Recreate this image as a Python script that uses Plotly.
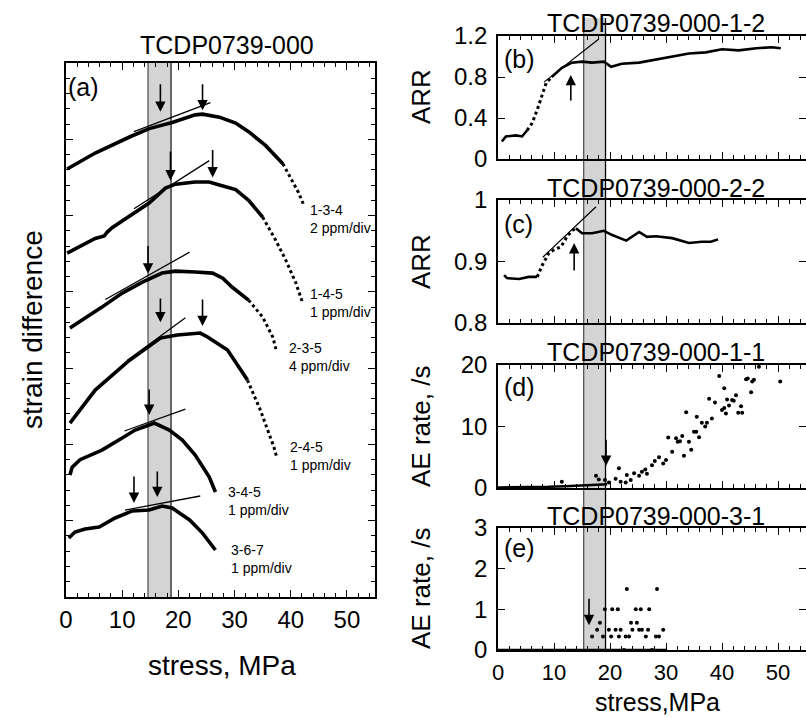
import plotly.graph_objects as go

# ---------------- DATA ----------------
# Panel (a): strain-difference curves (stress MPa, offset strain units)
stress_134 = [0.2, 5.2, 11.3, 14.8, 18.9, 23.0, 24.3, 27.3, 30.2, 32.5, 35.5, 38.6, 40.4, 41.4, 42.3]
strain_134 = [28.05, 29.1, 30.15, 30.7, 31.1, 31.6, 31.65, 31.45, 31.06, 30.5, 29.6, 28.4, 27.2, 26.5, 25.7]

stress_145 = [0.2, 2.9, 5.2, 6.8, 7.3, 8.2, 9.5, 12.3, 14.8, 17.7, 19.5, 23.0, 25.5, 27.3, 30.2, 32.5, 35.0, 37.3, 39.1, 40.9, 42.1]
strain_145 = [22.54, 23.07, 23.5, 23.66, 23.9, 24.2, 24.51, 25.16, 25.82, 26.8, 27.06, 27.2, 27.2, 27.0, 26.7, 26.0, 24.9, 23.4, 22.1, 20.6, 19.3]

stress_235 = [0.7, 2.9, 6.4, 10.0, 13.6, 17.1, 19.5, 23.0, 26.1, 27.9, 29.6, 32.5, 35.0, 36.8, 37.5]
strain_235 = [17.63, 18.15, 19.0, 19.92, 20.64, 21.23, 21.36, 21.3, 21.23, 20.9, 20.3, 19.46, 18.35, 17.04, 16.05]

stress_245 = [0.7, 1.4, 5.2, 11.25, 13.75, 16.8, 19.8, 23.9, 25.2, 28.75, 32.3, 34.6, 37.0, 37.5]
strain_245 = [11.4, 11.73, 13.56, 15.5, 16.19, 16.97, 17.17, 17.3, 17.04, 16.19, 14.22, 12.25, 9.83, 9.17]

stress_345 = [0.7, 1.1, 2.5, 6.4, 10.0, 12.3, 14.8, 15.7, 18.4, 20.7, 23.0, 25.5, 26.6]
strain_345 = [8.0, 8.5, 9.0, 9.63, 10.42, 10.94, 11.27, 11.4, 10.94, 10.29, 9.3, 7.86, 6.88]

stress_367 = [0.5, 1.6, 3.4, 5.9, 8.75, 11.8, 14.8, 17.1, 18.9, 22.0, 24.3, 26.6]
strain_367 = [3.87, 4.26, 4.46, 4.59, 5.18, 5.64, 5.7, 5.96, 5.83, 5.05, 4.19, 3.08]

curve_labels = ["1-3-4<br>2 ppm/div", "1-4-5<br>1 ppm/div", "2-3-5<br>4 ppm/div",
                "2-4-5<br>1 ppm/div", "3-4-5<br>1 ppm/div", "3-6-7<br>1 ppm/div"]
label_stress = [43.0, 43.0, 39.3, 39.5, 28.4, 29.1]
label_strain = [24.8, 19.27, 15.76, 9.24, 6.29, 2.49]

# tangent lines in (a)
tan_a_x = [[12.1, 25.7], [12.1, 25.5], [7.0, 22.0], [10.9, 21.25], [10.4, 21.25], [10.5, 23.9]]
tan_a_y = [[30.5, 32.4], [25.45, 28.6], [19.5, 22.6], [15.5, 18.3], [10.88, 12.32], [5.7, 6.62]]

# arrows in (a): stress, tip, tail
arrow_a_x = [16.8, 24.3, 18.6, 26.1, 14.6, 16.8, 24.3, 14.8, 12.1, 16.25]
arrow_a_tip = [31.8, 31.9, 27.3, 27.5, 21.2, 18.0, 17.76, 11.93, 6.16, 6.55]
arrow_a_tail = [33.7, 33.7, 29.3, 29.4, 23.1, 19.66, 19.6, 13.7, 8.0, 8.32]

# Panel (b): ARR TCDP0739-000-1-2
stress_b = [0.7, 1.4, 3.2, 4.3, 5.2, 6.1, 7.0, 7.9, 8.6, 9.6, 11.4, 13.2, 15.0, 16.8, 18.9, 20.2, 22.1,
            25.2, 28.2, 31.1, 34.1, 37.1, 40.0, 43.0, 46.1, 48.9, 50.5]
arr_b = [0.17, 0.22, 0.23, 0.22, 0.28, 0.35, 0.48, 0.62, 0.74, 0.80, 0.89, 0.94, 0.95, 0.94, 0.95, 0.90, 0.93,
         0.94, 0.97, 1.00, 1.03, 1.04, 1.07, 1.06, 1.08, 1.09, 1.08]
tan_b_x = [8.2, 18.0]
tan_b_y = [0.75, 1.17]

# Panel (c): ARR TCDP0739-000-2-2
stress_c = [1.1, 1.6, 3.75, 5.5, 7.0, 7.9, 9.1, 10.0, 11.25, 12.3, 13.2, 13.9, 15.0, 16.8, 18.9, 20.4, 22.9,
            25.2, 26.6, 28.2, 31.1, 34.1, 36.4, 38.0, 39.3]
arr_c = [0.878, 0.873, 0.8715, 0.875, 0.875, 0.894, 0.914, 0.919, 0.924, 0.940, 0.950, 0.954, 0.946, 0.946,
         0.950, 0.943, 0.934, 0.948, 0.940, 0.941, 0.938, 0.930, 0.932, 0.932, 0.936]
tan_c_x = [8.0, 17.5]
tan_c_y = [0.907, 0.989]

# Panel (d): AE rate TCDP0739-000-1-1
stress_d_base = [0, 3, 6, 9, 12, 15, 18, 19.5]
ae_d_base = [0.1, 0.1, 0.15, 0.2, 0.3, 0.4, 0.5, 0.6]
stress_d = [11.4, 17.5, 18.0, 19.1, 19.8, 21.0, 21.6, 21.9, 22.8, 23.0, 23.7, 24.3, 25.2, 25.7, 26.3, 26.6,
            27.5, 28.0, 28.75, 29.5, 30.0, 30.4, 31.1, 31.8, 32.1, 32.5, 32.9, 33.2, 33.6, 34.1, 34.5, 35.0,
            35.4, 35.5, 35.9, 36.4, 37.0, 37.3, 37.7, 38.2, 38.75, 39.5, 40.0, 40.4, 40.4, 40.7, 40.9, 41.25,
            41.8, 42.1, 42.5, 42.9, 43.4, 43.6, 44.3, 44.6, 45.2, 45.4, 45.7, 46.6, 50.4]
ae_d = [1.0, 2.0, 1.4, 1.3, 0.9, 1.5, 3.2, 1.0, 0.9, 2.1, 1.3, 2.4, 2.0, 2.65, 3.0, 2.3,
        3.7, 4.4, 5.0, 4.0, 4.55, 8.2, 5.9, 8.1, 7.5, 7.6, 8.45, 5.25, 12.3, 7.5, 6.2, 9.15,
        9.15, 11.6, 8.25, 10.6, 10.0, 10.6, 14.5, 11.3, 13.9, 18.2, 12.7, 13.0, 16.2, 12.1, 14.4, 13.4,
        14.3, 14.2, 15.1, 12.25, 13.3, 12.25, 17.7, 17.8, 15.55, 17.3, 17.6, 19.7, 17.3]

# Panel (e): AE rate TCDP0739-000-3-1
stress_e_base = [0, 30]
ae_e_base = [0, 0]
stress_e = [16.8, 17.7, 18.2, 18.75, 19.1, 19.8, 20.2, 20.4, 21.0, 21.4, 21.6, 21.9, 22.5, 22.8, 23.0, 23.4,
            23.75, 24.0, 24.6, 24.8, 25.2, 25.5, 25.7, 26.4, 26.8, 27.0, 27.5, 28.2, 28.4, 28.75, 29.5]
ae_e = [0.33, 0.5, 0.67, 0.33, 1.0, 0.5, 0.33, 1.0, 0.5, 1.0, 0.33, 0.5, 0.0, 0.33, 1.5, 0.33,
        0.67, 0.5, 1.0, 0.67, 0.5, 1.0, 0.5, 0.33, 0.5, 1.0, 0.0, 0.33, 1.5, 0.33, 0.5]

# arrows in right panels: stress, tip, tail
arrow_r_x = [13.0, 13.6, 19.3, 16.25]
arrow_r_tip = [0.82, 0.930, 3.6, 0.61]
arrow_r_tail = [0.556, 0.883, 8.1, 1.3]

band_a = [14.6, 18.7]
band_r = [15.3, 19.2]

panel_titles = ["TCDP0739-000", "TCDP0739-000-1-2", "TCDP0739-000-2-2", "TCDP0739-000-1-1", "TCDP0739-000-3-1"]
panel_tags = ["(a)", "(b)", "(c)", "(d)", "(e)"]

# ---------------- FIGURE ----------------
W, H = 806, 717
FONT = "Liberation Sans, Arial, Helvetica, sans-serif"


def px(x):
    return x / W


def py(y):
    return 1 - y / H


fig = go.Figure()


def seg_trace(xs, ys, i0, i1, dashed, xa, ya, width):
    fig.add_trace(go.Scatter(
        x=xs[i0:i1 + 1], y=ys[i0:i1 + 1], mode="lines", xaxis=xa, yaxis=ya,
        line=dict(color="black", width=(3 if dashed else width), dash=("3px,3px" if dashed else "solid")),
        hoverinfo="skip"))


# (a) curves: solid dense part + dotted sparse tail
curves_a = [(stress_134, strain_134, 11), (stress_145, strain_145, 16), (stress_235, strain_235, 11),
            (stress_245, strain_245, 10), (stress_345, strain_345, None), (stress_367, strain_367, None)]
for xs, ys, tail in curves_a:
    n = len(xs) - 1
    if tail is None:
        seg_trace(xs, ys, 0, n, False, "x", "y", 3.6)
    else:
        seg_trace(xs, ys, 0, tail, False, "x", "y", 3.6)
        seg_trace(xs, ys, tail, n, True, "x", "y", 3.6)

for tx, ty in zip(tan_a_x, tan_a_y):
    fig.add_trace(go.Scatter(x=tx, y=ty, mode="lines", line=dict(color="black", width=1.3),
                             xaxis="x", yaxis="y", hoverinfo="skip"))

# (b)
seg_trace(stress_b, arr_b, 0, 4, False, "x2", "y2", 2.6)
seg_trace(stress_b, arr_b, 4, 9, True, "x2", "y2", 2.6)
seg_trace(stress_b, arr_b, 9, len(stress_b) - 1, False, "x2", "y2", 2.6)
fig.add_trace(go.Scatter(x=tan_b_x, y=tan_b_y, mode="lines", line=dict(color="black", width=1.2),
                         xaxis="x2", yaxis="y2", hoverinfo="skip"))
# (c)
seg_trace(stress_c, arr_c, 0, 4, False, "x3", "y3", 2.6)
seg_trace(stress_c, arr_c, 4, 11, True, "x3", "y3", 2.6)
seg_trace(stress_c, arr_c, 11, len(stress_c) - 1, False, "x3", "y3", 2.6)
fig.add_trace(go.Scatter(x=tan_c_x, y=tan_c_y, mode="lines", line=dict(color="black", width=1.2),
                         xaxis="x3", yaxis="y3", hoverinfo="skip"))
# (d)
fig.add_trace(go.Scatter(x=stress_d_base, y=ae_d_base, mode="lines", line=dict(color="black", width=2.5),
                         xaxis="x4", yaxis="y4", hoverinfo="skip"))
fig.add_trace(go.Scatter(x=stress_d, y=ae_d, mode="markers", marker=dict(color="black", size=4),
                         xaxis="x4", yaxis="y4", hoverinfo="skip"))
# (e)
fig.add_trace(go.Scatter(x=stress_e_base, y=ae_e_base, mode="lines", line=dict(color="black", width=2.5),
                         xaxis="x5", yaxis="y5", hoverinfo="skip"))
fig.add_trace(go.Scatter(x=stress_e, y=ae_e, mode="markers", marker=dict(color="black", size=4),
                         xaxis="x5", yaxis="y5", hoverinfo="skip"))

# ---- axes ----
tickfont = dict(size=24, color="black", family=FONT)
tickfont_small = dict(size=22, color="black", family=FONT)


def xaxis_cfg(domain, anchor, labels, standoff, tf):
    return dict(domain=domain, anchor=anchor, range=[0, 55], tick0=0, dtick=10, ticks="inside", ticklen=7,
                tickwidth=1.3, tickcolor="black",
                minor=dict(ticks="inside", dtick=2, ticklen=4, tickwidth=1.2, tickcolor="black"),
                showline=True, linewidth=1.6, linecolor="black", mirror="allticks", showgrid=False,
                zeroline=False, showticklabels=labels, tickfont=tf, ticklabelstandoff=standoff,
                automargin=False)


def yaxis_cfg(domain, anchor, rng, vals):
    return dict(domain=domain, anchor=anchor, range=rng, tickmode="array", tickvals=vals, ticks="inside",
                ticklen=7, tickwidth=1.3, tickcolor="black", showline=True, linewidth=1.6,
                linecolor="black", mirror="allticks", showgrid=False, zeroline=False,
                tickfont=tickfont, ticklabelstandoff=4, automargin=False)


xr = [px(498), 1.0]
layout_axes = dict(
    xaxis=xaxis_cfg([px(66), px(375)], "y", True, 0, tickfont),
    yaxis=dict(domain=[py(597), py(63)], anchor="x", range=[0, 35], tick0=0, dtick=5, ticks="inside",
               ticklen=7, tickwidth=1.3, tickcolor="black",
               minor=dict(ticks="inside", dtick=1, ticklen=4, tickwidth=1.2, tickcolor="black"),
               showline=True, linewidth=1.6, linecolor="black", mirror="allticks", showgrid=False,
               zeroline=False, showticklabels=False, automargin=False),
    xaxis2=xaxis_cfg(xr, "y2", False, 4, tickfont),
    yaxis2=yaxis_cfg([py(159), py(36)], "x2", [0, 1.2], [0, 0.4, 0.8, 1.2]),
    xaxis3=xaxis_cfg(xr, "y3", False, 4, tickfont),
    yaxis3=yaxis_cfg([py(323), py(200)], "x3", [0.8, 1.0], [0.8, 0.9, 1.0]),
    xaxis4=xaxis_cfg(xr, "y4", False, 4, tickfont),
    yaxis4=yaxis_cfg([py(488), py(365)], "x4", [0, 20], [0, 10, 20]),
    xaxis5=xaxis_cfg(xr, "y5", True, 2, tickfont_small),
    yaxis5=yaxis_cfg([py(650), py(528)], "x5", [0, 3], [0, 1, 2, 3]),
)

# ---- shapes: grey bands ----
shapes = [
    dict(type="rect", xref="x", yref="y domain", x0=band_a[0], x1=band_a[1], y0=0, y1=1,
         fillcolor="#d4d4d4", line=dict(width=0), layer="below"),
    dict(type="line", xref="x", yref="y domain", x0=band_a[0], x1=band_a[0], y0=0, y1=1,
         line=dict(color="#555555", width=1.3), layer="below"),
    dict(type="line", xref="x", yref="y domain", x0=band_a[1], x1=band_a[1], y0=0, y1=1,
         line=dict(color="#222222", width=1.3), layer="below"),
    dict(type="rect", xref="x2", yref="paper", x0=band_r[0], x1=band_r[1], y0=py(650), y1=py(18),
         fillcolor="#d4d4d4", line=dict(width=0), layer="below"),
    dict(type="line", xref="x2", yref="paper", x0=band_r[0], x1=band_r[0], y0=py(650), y1=py(18),
         line=dict(color="#555555", width=1.3), layer="below"),
    dict(type="line", xref="x2", yref="paper", x0=band_r[1], x1=band_r[1], y0=py(650), y1=py(18),
         line=dict(color="black", width=1.3), layer="below"),
]

# ---- annotations ----
ann = []
# arrows (a)
for x, tip, tail in zip(arrow_a_x, arrow_a_tip, arrow_a_tail):
    ann.append(dict(x=x, y=tip, ax=x, ay=tail, xref="x", yref="y", axref="x", ayref="y", text="",
                    showarrow=True, arrowhead=2, arrowsize=1.3, arrowwidth=1.6, arrowcolor="black", standoff=0))
# arrows right
for i, (x, tip, tail) in enumerate(zip(arrow_r_x, arrow_r_tip, arrow_r_tail)):
    xa, ya = "x%d" % (i + 2), "y%d" % (i + 2)
    ann.append(dict(x=x, y=tip, ax=x, ay=tail, xref=xa, yref=ya, axref=xa, ayref=ya, text="",
                    showarrow=True, arrowhead=2, arrowsize=1.3, arrowwidth=1.6, arrowcolor="black", standoff=0))
# curve labels
for t, x, y in zip(curve_labels, label_stress, label_strain):
    ann.append(dict(x=x, y=y, xref="x", yref="y", text=t, showarrow=False, xanchor="left", align="left",
                    font=dict(size=14, color="black", family=FONT)))

# panel titles
title_pos = [(227, 45), (656, 23), (656, 188), (656, 352), (656, 516)]
for t, (x, y) in zip(panel_titles, title_pos):
    ann.append(dict(x=px(x), y=py(y), xref="paper", yref="paper", text=t, showarrow=False,
                    xanchor="center", yanchor="middle", font=dict(size=25, color="black", family=FONT)))
# panel tags
tag_pos = [(66, 87), (502, 59), (502, 224), (502, 387), (502, 548)]
for t, (x, y) in zip(panel_tags, tag_pos):
    ann.append(dict(x=px(x), y=py(y), xref="paper", yref="paper", text=t, showarrow=False,
                    xanchor="left", yanchor="middle", font=dict(size=25, color="black", family=FONT)))
# axis titles
axis_titles = [("strain difference", 32, 330, -90, 28), ("stress, MPa", 222, 665, 0, 28),
               ("stress,MPa", 657, 702, 0, 25),
               ("ARR", 421, 97, -90, 26), ("ARR", 421, 262, -90, 26), ("AE rate, /s", 421, 427, -90, 26),
               ("AE rate, /s", 421, 589, -90, 26)]
for t, x, y, ang, fs in axis_titles:
    ann.append(dict(x=px(x), y=py(y), xref="paper", yref="paper", text=t, showarrow=False, textangle=ang,
                    xanchor="center", yanchor="middle", borderpad=0,
                    font=dict(size=fs, color="black", family=FONT)))

fig.update_layout(
    width=W, height=H, margin=dict(l=0, r=0, t=0, b=0, pad=0, autoexpand=False), showlegend=False,
    paper_bgcolor="white", plot_bgcolor="rgba(0,0,0,0)",
    font=dict(family=FONT, color="black"),
    shapes=shapes, annotations=ann, **layout_axes)

fig.write_html("out.html", config={"displayModeBar": False},
               post_script="document.body.style.margin='0px';document.body.style.padding='0px';"
                           "document.body.style.overflow='hidden';")
